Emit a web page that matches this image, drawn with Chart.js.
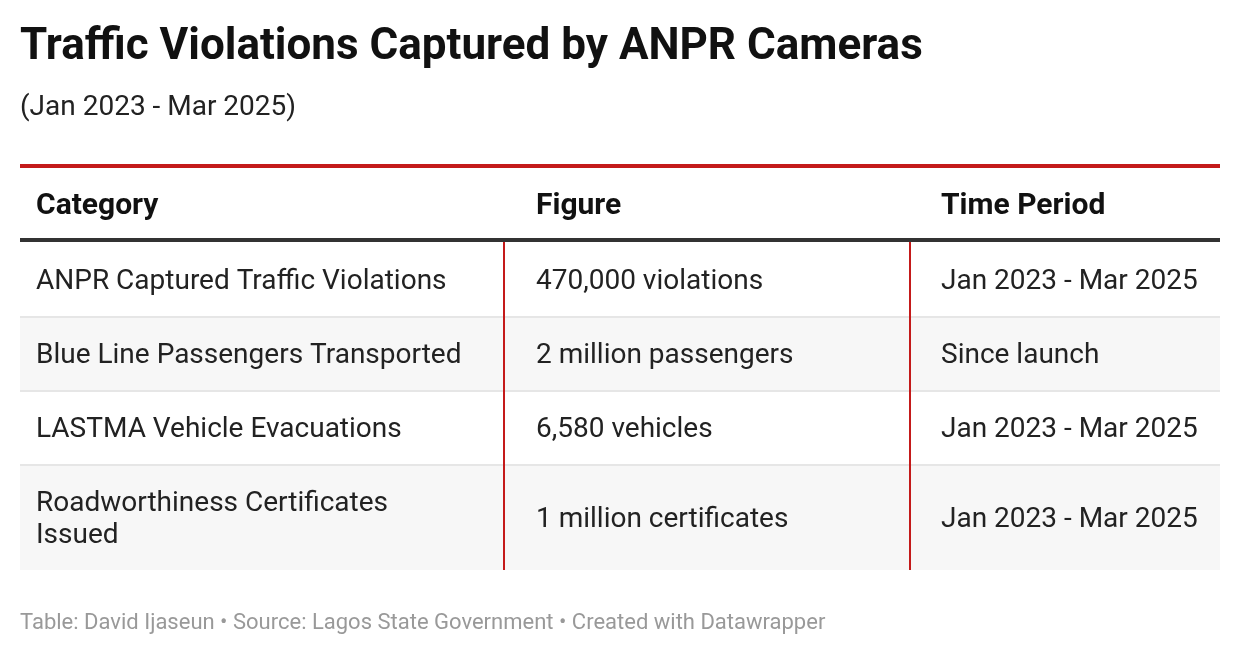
<!DOCTYPE html>
<html><head><meta charset="utf-8">
<script src="https://cdn.jsdelivr.net/npm/chart.js@4"></script>
<style>html,body{margin:0;padding:0;background:#fff;}#wrap{width:1240px;height:656px;}</style>
</head><body><div id="wrap"><canvas id="c"></canvas></div>
<script>
const title = "Traffic Violations Captured by ANPR Cameras";
const subtitle = "(Jan 2023 - Mar 2025)";
const headers = ["Category", "Figure", "Time Period"];
const categories = ["ANPR Captured Traffic Violations", "Blue Line Passengers Transported", "LASTMA Vehicle Evacuations", "Roadworthiness Certificates\nIssued"];
const figures = ["470,000 violations", "2 million passengers", "6,580 vehicles", "1 million certificates"];
const periods = ["Jan 2023 - Mar 2025", "Since launch", "Jan 2023 - Mar 2025", "Jan 2023 - Mar 2025"];
const footer = "Table: David Ijaseun • Source: Lagos State Government • Created with Datawrapper";

const F = "Roboto, 'Noto Sans', sans-serif";
const tablePlugin = {
  id: 'table',
  afterDraw(chart) {
    const ctx = chart.ctx;
    ctx.save();
    ctx.textBaseline = 'middle';
    ctx.fillStyle = '#111';
    ctx.font = "bold 44px " + F;
    ctx.fillText(title, 20, 48);
    ctx.font = "28px " + F;
    ctx.fillStyle = '#222';
    ctx.fillText(subtitle, 20, 108);
    const L = 20, R = 1220, colX = [36, 536, 941], divX = [503, 909];
    ctx.fillStyle = '#c41a1a';
    ctx.fillRect(L, 164, R - L, 4);
    ctx.fillStyle = '#111';
    ctx.font = "bold 30px " + F;
    headers.forEach((h, i) => ctx.fillText(h, colX[i], 206));
    const rows = [[242, 317], [317, 391], [391, 465], [465, 570]];
    rows.forEach((r, i) => {
      if (i % 2 === 1) { ctx.fillStyle = '#f7f7f7'; ctx.fillRect(L, r[0], R - L, r[1] - r[0]); }
      if (i > 0) { ctx.fillStyle = '#e6e6e6'; ctx.fillRect(L, r[0] - 1, R - L, 2); }
    });
    ctx.fillStyle = '#333';
    ctx.fillRect(L, 238, R - L, 4);
    ctx.fillStyle = '#c41a1a';
    divX.forEach(x => ctx.fillRect(x, 242, 2, 570 - 242));
    ctx.font = "28px " + F;
    ctx.fillStyle = '#222';
    rows.forEach((r, i) => {
      const mid = (r[0] + r[1]) / 2 + 2;
      const lines = categories[i].split("\n");
      lines.forEach((t, k) => ctx.fillText(t, colX[0], mid + (k - (lines.length - 1) / 2) * 32));
      ctx.fillText(figures[i], colX[1], mid);
      ctx.fillText(periods[i], colX[2], mid);
    });
    ctx.font = "22px " + F;
    ctx.fillStyle = '#999';
    ctx.fillText(footer, 20, 623);
    ctx.restore();
  }
};
new Chart(document.getElementById('c'), {
  type: 'bar',
  data: { labels: categories, datasets: [{ data: [], label: 'table' }] },
  options: {
    responsive: true, maintainAspectRatio: false, animation: false,
    plugins: { legend: { display: false }, tooltip: { enabled: false } },
    scales: { x: { display: false }, y: { display: false } }
  },
  plugins: [tablePlugin]
});
</script></body></html>
